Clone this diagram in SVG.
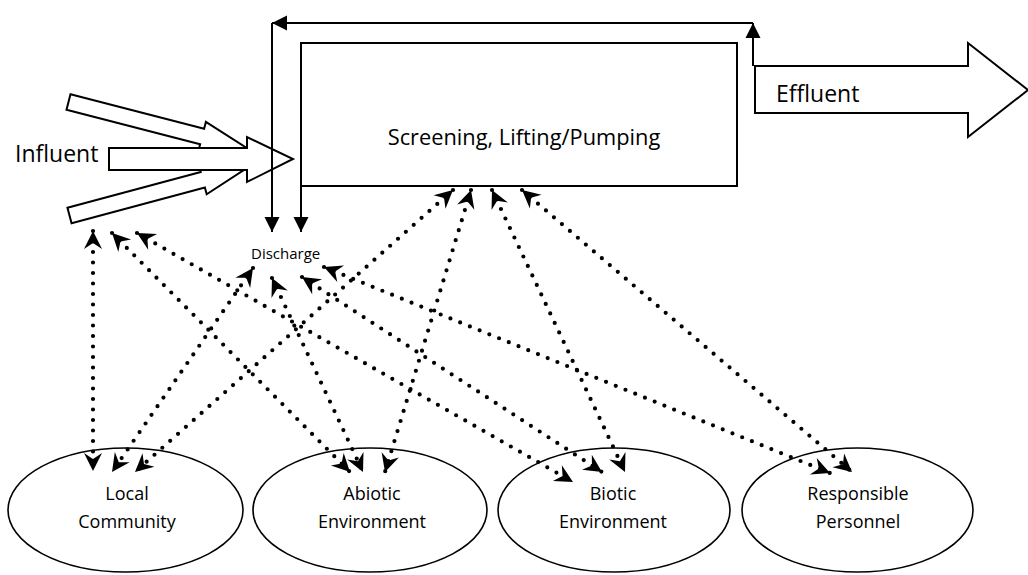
<svg xmlns="http://www.w3.org/2000/svg" width="1028" height="575" viewBox="0 0 1028 575">
<style>
.sh{fill:#fff;stroke:#000;stroke-width:2}
.el{fill:#fff;stroke:#000;stroke-width:1.6}
.t{font-family:"Open Sans","Liberation Sans",sans-serif;fill:#000}
.dot{fill:none;stroke:#000;stroke-width:4.2;stroke-linecap:round;stroke-dasharray:0 10.5;marker-start:url(#st);marker-end:url(#st)}
.sol{fill:none;stroke:#000;stroke-width:2;marker-end:url(#tri)}
</style>
<defs>
<marker id="st" viewBox="-20 -10 21 20" refX="0" refY="0" markerWidth="21" markerHeight="20" markerUnits="userSpaceOnUse" orient="auto-start-reverse">
<path d="M0,0 L-18,-9 L-12,0 L-18,9 Z" fill="#000"/>
</marker>
<marker id="tri" viewBox="-16 -8 17 16" refX="0" refY="0" markerWidth="17" markerHeight="16" markerUnits="userSpaceOnUse" orient="auto">
<path d="M0,0 L-15,-7.5 L-15,7.5 Z" fill="#000"/>
</marker>
</defs>
<rect width="1028" height="575" fill="#fff"/>
<g id="influent">
<polygon class="sh" transform="translate(68.5,102) rotate(14.45)" points="0,-8 138,-8 138,-15 184,0 138,15 138,8 0,8"/>
<polygon class="sh" transform="translate(69.5,215.5) rotate(-15)" points="0,-8 138,-8 138,-15 184,0 138,15 138,8 0,8"/>
<polygon class="sh" points="109,148 247,148 247,137 293,159 247,182 247,170 109,170"/>
<text class="t" x="15" y="162" font-size="23">Influent</text>
</g>
<g id="screening">
<rect class="sh" x="301" y="43" width="436" height="143"/>
<text class="t" x="524" y="145" font-size="21.8" text-anchor="middle">Screening, Lifting/Pumping</text>
</g>
<g id="effluent">
<polygon class="sh" points="755,66 968,66 968,43 1028,90 968,137 968,113 755,113"/>
<text class="t" x="776" y="102" font-size="23">Effluent</text>
</g>
<g id="discharge">
<text class="t" x="251" y="259" font-size="15">Discharge</text>
</g>
<g id="local">
<ellipse class="el" cx="125.5" cy="510" rx="117.5" ry="62"/>
<text class="t" font-size="18" text-anchor="middle"><tspan x="127" y="500">Local</tspan><tspan x="127" y="528">Community</tspan></text>
</g>
<g id="abiotic">
<ellipse class="el" cx="370" cy="510" rx="117" ry="62"/>
<text class="t" font-size="18" text-anchor="middle"><tspan x="372" y="500">Abiotic</tspan><tspan x="372" y="528">Environment</tspan></text>
</g>
<g id="biotic">
<ellipse class="el" cx="614" cy="510" rx="116" ry="62"/>
<text class="t" font-size="18" text-anchor="middle"><tspan x="613" y="500">Biotic</tspan><tspan x="613" y="528">Environment</tspan></text>
</g>
<g id="personnel">
<ellipse class="el" cx="857.5" cy="510" rx="115.5" ry="62"/>
<text class="t" font-size="18" text-anchor="middle"><tspan x="858" y="500">Responsible</tspan><tspan x="858" y="528">Personnel</tspan></text>
</g>
<g id="connectors">
<line class="sol" x1="753" y1="66" x2="753" y2="23"/>
<line class="sol" x1="753" y1="23" x2="272" y2="23"/>
<line class="sol" x1="272" y1="23" x2="272" y2="232"/>
<line class="sol" x1="301" y1="187" x2="301" y2="232"/>
<line class="dot" x1="93" y1="231" x2="93" y2="471"/>
<line class="dot" x1="112" y1="233" x2="350" y2="472"/>
<line class="dot" x1="137" y1="233" x2="573" y2="482"/>
<line class="dot" x1="253" y1="268" x2="112" y2="472"/>
<line class="dot" x1="272" y1="278" x2="363" y2="472"/>
<line class="dot" x1="302" y1="277" x2="602" y2="472"/>
<line class="dot" x1="324" y1="267" x2="830" y2="473"/>
<line class="dot" x1="453" y1="190" x2="135" y2="472"/>
<line class="dot" x1="471" y1="190" x2="385" y2="472"/>
<line class="dot" x1="492" y1="190" x2="625" y2="472"/>
<line class="dot" x1="522" y1="190" x2="852" y2="472"/>
</g>
</svg>
